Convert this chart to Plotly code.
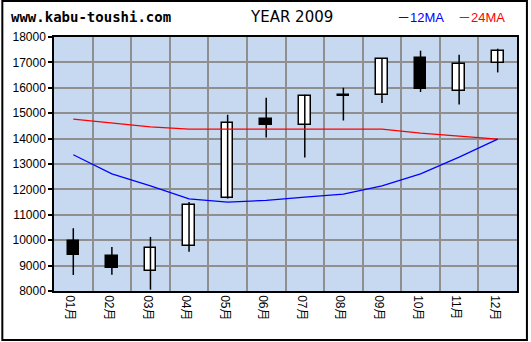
import plotly.graph_objects as go

# ---- data ----
months = ["01月", "02月", "03月", "04月", "05月", "06月", "07月", "08月", "09月", "10月", "11月", "12月"]
open_ = [9971, 9380, 8788, 9762, 11654, 14768, 14532, 15690, 15715, 17185, 15872, 16976]
high = [10472, 9734, 10129, 11508, 14938, 15608, 15726, 16002, 17150, 17461, 17303, 17540]
low = [8631, 8643, 8051, 9549, 11640, 14043, 13255, 14713, 15399, 15833, 15344, 16605]
close = [9431, 8918, 9683, 11378, 14611, 14532, 15687, 15710, 17134, 15935, 16948, 17449]
ma12 = [13361, 12612, 12139, 11627, 11500, 11568, 11694, 11812, 12139, 12612, 13270, 13980]
ma24 = [14768, 14615, 14465, 14374, 14374, 14374, 14374, 14374, 14374, 14217, 14110, 13980]
y_ticks = list(range(8000, 18001, 1000))

W, H = 531, 342
ML, MR, MT, MB = 53, 12, 37, 51
PW, PH = W - ML - MR, H - MT - MB


def px(x):
    return (x - ML) / PW


def py(y):
    return (H - MB - y) / PH


xs = list(range(len(months)))

fig = go.Figure()

# wicks
wx, wy = [], []
for i in xs:
    wx += [i, i, None]
    wy += [low[i], high[i], None]
fig.add_trace(go.Scatter(x=wx, y=wy, mode="lines", line=dict(color="black", width=1.5),
                         hoverinfo="skip", showlegend=False))

# bodies
bases = [min(o, c) for o, c in zip(open_, close)]
heights = [max(abs(c - o), 20) for o, c in zip(open_, close)]
colors = ["black" if c < o else "white" for o, c in zip(open_, close)]
fig.add_trace(go.Bar(x=xs, y=heights, base=bases, width=0.3,
                     marker=dict(color=colors, line=dict(color="black", width=1.5)),
                     showlegend=False))

# moving averages
fig.add_trace(go.Scatter(x=xs, y=ma24, mode="lines", line=dict(color="#FF0000", width=1.2),
                         showlegend=False))
fig.add_trace(go.Scatter(x=xs, y=ma12, mode="lines", line=dict(color="#0000FF", width=1.2),
                         showlegend=False))

font_lbl = "Liberation Sans, Arial, Noto Sans CJK JP, sans-serif"

fig.update_layout(
    width=W, height=H,
    margin=dict(l=ML, r=MR, t=MT, b=MB, pad=0),
    paper_bgcolor="white",
    plot_bgcolor="#C6D9F0",
    showlegend=False,
    bargap=0,
    xaxis=dict(
        range=[-0.5, len(months) - 0.5],
        tickmode="array", tickvals=xs, ticktext=months,
        tickangle=90, ticks="", showgrid=False, zeroline=False,
        showline=True, linecolor="black", linewidth=1.5, mirror=True,
        tickfont=dict(family=font_lbl, size=12, color="black"),
        ticklabelshift=-3,
        minor=dict(tick0=0.5, dtick=1, showgrid=True, gridcolor="#8f8f8f", gridwidth=1.5, ticks=""),
    ),
    yaxis=dict(
        range=[8000, 18000], tickmode="array", tickvals=y_ticks,
        ticktext=[str(v) for v in y_ticks],
        showgrid=True, gridcolor="#8f8f8f", gridwidth=1.5, zeroline=False,
        ticks="outside", ticklen=4, tickcolor="black", tickwidth=1.5,
        showline=True, linecolor="black", linewidth=1.5, mirror=True,
        tickfont=dict(family=font_lbl, size=12, color="black"),
    ),
    shapes=[dict(type="rect", xref="paper", yref="paper",
                 x0=px(1), x1=px(529), y0=py(340), y1=py(1),
                 line=dict(color="black", width=2), fillcolor="rgba(0,0,0,0)", layer="above")],
    annotations=[
        dict(text="<b>www.kabu-toushi.com</b>", xref="paper", yref="paper", x=px(8), y=py(17.5),
             xanchor="left", yanchor="middle", showarrow=False,
             font=dict(family="DejaVu Sans Mono", size=14, color="black")),
        dict(text="YEAR 2009", xref="paper", yref="paper", x=px(292), y=py(17.5),
             xanchor="center", yanchor="middle", showarrow=False,
             font=dict(family="DejaVu Sans", size=15, color="black")),
        dict(text="－12MA", xref="paper", yref="paper", x=px(396), y=py(17.5),
             xanchor="left", yanchor="middle", showarrow=False,
             font=dict(family=font_lbl, size=13, color="#0000FF")),
        dict(text="－24MA", xref="paper", yref="paper", x=px(458), y=py(17.5),
             xanchor="left", yanchor="middle", showarrow=False,
             font=dict(family=font_lbl, size=13, color="#FF0000")),
    ],
)

fig.write_html("out.html")
